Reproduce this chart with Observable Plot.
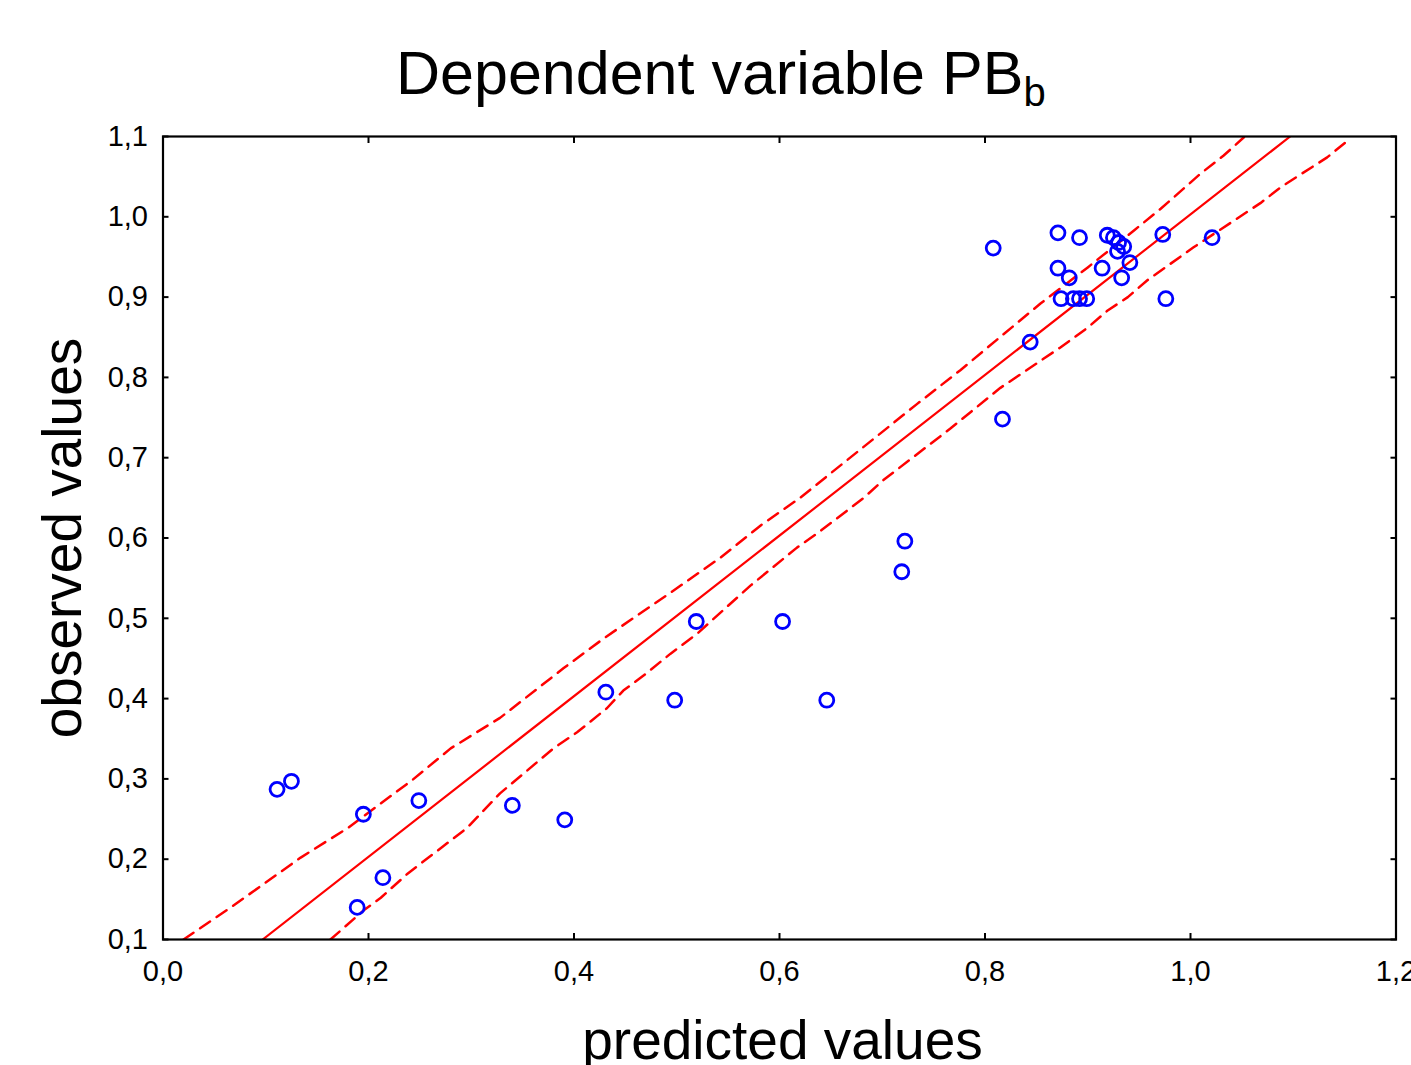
<!DOCTYPE html>
<html><head><meta charset="utf-8">
<script src="https://cdn.jsdelivr.net/npm/d3@7"></script>
<script src="https://cdn.jsdelivr.net/npm/@observablehq/plot@0.6"></script>
<style>
body{margin:0;background:#fff;}
#wrap{position:relative;width:1411px;height:1065px;overflow:hidden;font-family:"Liberation Sans",Arial,sans-serif;background:#fff;}
#chart{position:absolute;left:0;top:0;z-index:1;}
#title{position:absolute;left:396px;top:43px;font-size:61px;line-height:1;white-space:nowrap;color:#000;z-index:2;}
#title .sub{font-size:40px;position:relative;top:12px;}
</style></head><body>
<div id="wrap"><div id="chart"></div><div id="title">Dependent variable PB<span class="sub">b</span></div></div>
<script>
const predicted = [0.111,0.125,0.195,0.189,0.214,0.249,0.340,0.391,0.431,0.498,0.519,0.603,0.646,0.719,0.722,0.808,0.817,0.844,0.871,0.892,0.919,0.925,0.930,0.935,0.929,0.941,0.871,0.882,0.914,0.933,0.874,0.886,0.892,0.899,0.973,1.021,0.976];
const observed  = [0.287,0.297,0.256,0.140,0.177,0.273,0.267,0.249,0.408,0.398,0.496,0.496,0.398,0.558,0.596,0.961,0.748,0.844,0.980,0.974,0.977,0.974,0.968,0.963,0.957,0.943,0.936,0.924,0.936,0.924,0.898,0.898,0.898,0.898,0.978,0.974,0.898];

const fitX = [0.097, 1.097];
const fitY = [0.100, 1.100];

const upperX = [0.020,0.066,0.134,0.180,0.243,0.280,0.328,0.390,0.429,0.494,0.543,0.582,0.620,0.734,0.776,0.854,0.900,0.945,0.971,1.010,1.032,1.052];
const upperY = [0.100,0.140,0.202,0.239,0.299,0.338,0.376,0.438,0.475,0.532,0.576,0.616,0.650,0.767,0.809,0.892,0.937,0.983,1.010,1.054,1.076,1.099];

const lowerX = [0.163,0.195,0.212,0.238,0.296,0.328,0.380,0.403,0.432,0.448,0.468,0.494,0.520,0.572,0.617,0.637,0.682,0.701,0.766,0.815,0.873,0.900,0.919,0.939,0.958,1.003,1.068,1.088,1.133,1.156];
const lowerY = [0.100,0.136,0.152,0.182,0.239,0.282,0.338,0.358,0.388,0.410,0.429,0.456,0.481,0.541,0.588,0.606,0.650,0.672,0.736,0.787,0.837,0.862,0.883,0.900,0.921,0.962,1.017,1.037,1.074,1.098];

const xTicks = [0.0,0.2,0.4,0.6,0.8,1.0,1.2];
const yTicks = [0.1,0.2,0.3,0.4,0.5,0.6,0.7,0.8,0.9,1.0,1.1];

const points = predicted.map((p,i)=>({p, o: observed[i]}));
const fit = fitX.map((x,i)=>({x, y: fitY[i]}));
const upper = upperX.map((x,i)=>({x, y: upperY[i]}));
const lower = lowerX.map((x,i)=>({x, y: lowerY[i]}));
const fmt = d => d.toFixed(1).replace(".", ",");

const chart = Plot.plot({
  width: 1411,
  height: 1065,
  marginLeft: 162.5,
  marginRight: 15.5,
  marginTop: 136,
  marginBottom: 126,
  style: {fontFamily: '"Liberation Sans", Arial, sans-serif', background: "transparent", color: "#000", overflow: "visible"},
  x: {domain: [0, 1.2]},
  y: {domain: [0.1, 1.1]},
  marks: [
    Plot.line(upper, {x: "x", y: "y", stroke: "#ff0000", strokeWidth: 2.5, strokeDasharray: "12,8", clip: true}),
    Plot.line(lower, {x: "x", y: "y", stroke: "#ff0000", strokeWidth: 2.5, strokeDasharray: "12,8", clip: true}),
    Plot.line(fit, {x: "x", y: "y", stroke: "#ff0000", strokeWidth: 2.2, clip: true}),
    Plot.dot(points, {x: "p", y: "o", r: 7, stroke: "#0000ff", strokeWidth: 2.8, fill: "none"}),
    Plot.axisX(xTicks, {anchor: "bottom", tickSize: -6, text: null, label: null, strokeWidth: 2}),
    Plot.axisX(xTicks, {anchor: "top", tickSize: -6, text: null, label: null, strokeWidth: 2}),
    Plot.axisY(yTicks, {anchor: "left", tickSize: -6, text: null, label: null, strokeWidth: 2}),
    Plot.axisY(yTicks, {anchor: "right", tickSize: -6, text: null, label: null, strokeWidth: 2}),
    Plot.axisX(xTicks, {anchor: "bottom", tickSize: 0, tickPadding: 21, tickFormat: fmt, fontSize: 29, label: null}),
    Plot.axisY(yTicks, {anchor: "left", tickSize: 0, tickPadding: 15, tickFormat: fmt, fontSize: 29, label: null}),
    Plot.frame({stroke: "#000", strokeWidth: 2.2}),
    Plot.text(["predicted values"], {frameAnchor: "bottom", textAnchor: "middle", lineAnchor: "bottom", dx: 3, dy: 119, fontSize: 55, fill: "#000"}),
    Plot.text(["observed values"], {frameAnchor: "left", textAnchor: "middle", lineAnchor: "bottom", rotate: -90, dx: -82, fontSize: 55, fill: "#000"})
  ]
});
document.getElementById("chart").appendChild(chart);
</script>
</body></html>
